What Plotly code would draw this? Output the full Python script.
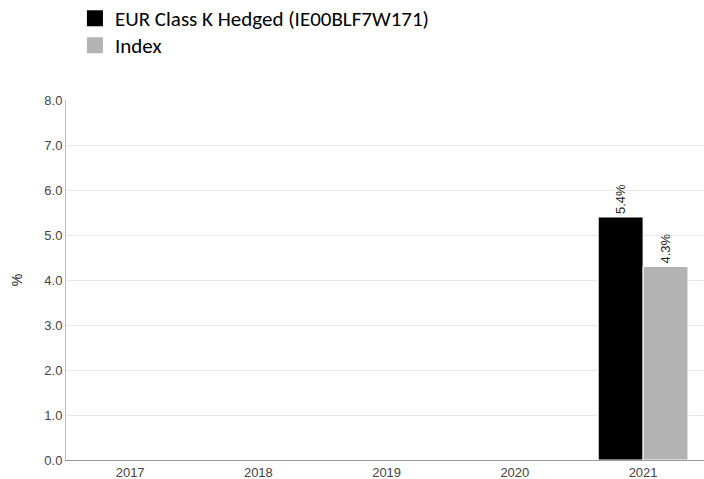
import plotly.graph_objects as go

years = ["2017", "2018", "2019", "2020", "2021"]
fund_values = [None, None, None, None, 5.4]
index_values = [None, None, None, None, 4.3]
fund_name = "EUR Class K Hedged (IE00BLF7W171)"
index_name = "Index"
fund_color = "#000000"
index_color = "#b3b3b3"

def labels(vals):
    return [f"{v:.1f}%" if v is not None else "" for v in vals]

fig = go.Figure()
for vals, name, color in [(fund_values, fund_name, fund_color), (index_values, index_name, index_color)]:
    fig.add_trace(go.Bar(x=years, y=vals, name=name, showlegend=False,
                         marker=dict(color=color, line=dict(color="#ffffff", width=1)),
                         text=labels(vals), textposition="outside", textangle=-90,
                         constraintext="none",
                         textfont=dict(family="Liberation Sans, Arial", size=13, color="#222222"),
                         cliponaxis=False))
for name, color, lg in [(fund_name, fund_color, "legend"), (index_name, index_color, "legend2")]:
    fig.add_trace(go.Scatter(x=[None], y=[None], mode="markers", name=name, legend=lg,
                             marker=dict(symbol="square", size=22, color=color)))

legend_style = dict(xanchor="left", yanchor="top", x=0.014,
                    font=dict(family="Carlito, Open Sans, sans-serif", size=21, color="#000000"),
                    itemwidth=30, bgcolor="rgba(0,0,0,0)")

fig.update_layout(
    width=704, height=479,
    margin=dict(l=66, r=0, t=100, b=19, autoexpand=False),
    paper_bgcolor="white", plot_bgcolor="white",
    barmode="group", bargap=0.3, bargroupgap=0,
    showlegend=True,
    legend=dict(y=1.283, **legend_style),
    legend2=dict(y=1.208, **legend_style),
    font=dict(family="Liberation Sans, Arial", size=13, color="#444444"),
)
fig.update_yaxes(range=[0, 8], dtick=1, tickformat=".1f", showgrid=True, gridcolor="#e8e8e8",
                 showline=True, linecolor="#bbbbbb", linewidth=1, zeroline=False,
                 ticks="", title=dict(text="%", font=dict(size=14, color="#222222"), standoff=18),
                 tickfont=dict(size=13, color="#444444"))
fig.update_xaxes(range=[-0.5, 4.475], showline=True, linecolor="#999999", linewidth=1, ticks="",
                 tickfont=dict(size=13, color="#444444"))

fig.write_html("out.html", config={"displayModeBar": False},
               post_script="document.body.style.margin='0';document.body.style.overflow='hidden';")
